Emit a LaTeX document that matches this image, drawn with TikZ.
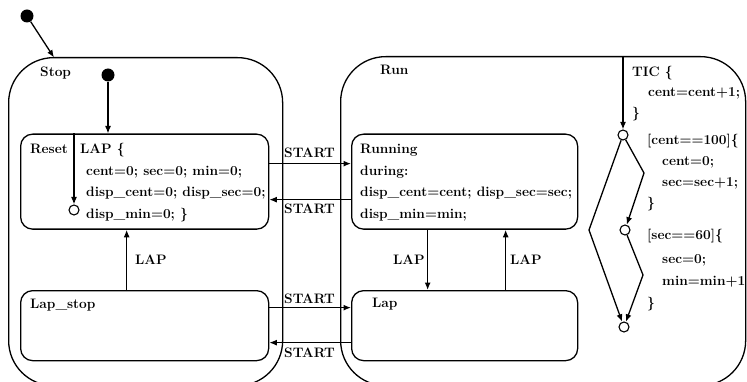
\documentclass[tikz,border=0pt]{standalone}
\usepackage{fontspec}
\usetikzlibrary{arrows.meta}
\newcommand\dfs{\fontsize{13.7}{16}\selectfont\bfseries}
\tikzset{
  statebox/.style={draw, line width=1.3pt, rounded corners=12pt, anchor=north west, inner sep=0pt},
  superbox/.style={draw, line width=1.3pt, rounded corners=45pt, anchor=north west, inner sep=0pt},
  tr/.style={line width=1.3pt, -{Latex[length=7.5pt,width=6pt]}},
  txt/.style={anchor=base west, inner sep=0pt, font=\dfs},
  junc/.style={circle, draw, line width=1.1pt, minimum size=10pt, inner sep=0pt},
  initdot/.style={circle, fill, minimum size=13pt, inner sep=0pt},
}
\begin{document}
\begin{tikzpicture}[x=1pt,y=-1pt]
\clip (0,0) rectangle (747,382);
% super states
\node[superbox, minimum width=274pt, minimum height=328pt] (stop) at (8,57) {};
\node[superbox, minimum width=405pt, minimum height=329pt] (run) at (340,56) {};
\node[txt] (stoplbl) at (40,77) {Stop};
\node[txt] (runlbl) at (380,75) {Run};
% sub states
\node[statebox, minimum width=248pt, minimum height=95pt] (reset) at (20,133.5) {};
\node[statebox, minimum width=226pt, minimum height=95pt] (running) at (351,133.5) {};
\node[statebox, minimum width=248pt, minimum height=70pt] (lapstop) at (20,290) {};
\node[statebox, minimum width=226pt, minimum height=70pt] (lap) at (351,290) {};
% texts of Reset
\node[txt] (t1) at (30,154) {Reset};
\node[txt] (t2) at (80,154) {LAP \{};
\node[txt] (t3) at (86,175.5) {cent=0; sec=0; min=0;};
\node[txt] (t4) at (86,197) {disp\_cent=0; disp\_sec=0;};
\node[txt] (t5) at (86,218.5) {disp\_min=0; \}};
% texts of Running
\node[txt] (r1) at (360,154) {Running};
\node[txt] (r2) at (360,175.5) {during:};
\node[txt] (r3) at (360,197) {disp\_cent=cent; disp\_sec=sec;};
\node[txt] (r4) at (360,218.5) {disp\_min=min;};
% other state names
\node[txt] (ls) at (30,308) {Lap\_stop};
\node[txt] (lp) at (372,307) {Lap};
% initial transitions
\node[initdot] (init1) at (27,16) {};
\coordinate (stopin) at (54,57.5);
\draw[tr] (init1) -- (stopin);
\node[initdot] (init2) at (108,75) {};
\draw[tr] (init2) -- (init2 |- reset.north);
\coordinate (rtop) at (74,133.5);
\node[junc] (j0) at (74,210) {};
\draw[tr] (rtop) -- (j0);
% START transitions
\draw[tr] ([yshift=18pt]reset.east) -- ([yshift=18pt]running.west);
\draw[tr] ([yshift=-18pt]running.west) -- ([yshift=-18pt]reset.east);
\draw[tr] ([yshift=18pt]lapstop.east) -- ([yshift=18pt]lap.west);
\draw[tr] ([yshift=-17pt]lap.west) -- ([yshift=-17pt]lapstop.east);
\node[txt] (s1) at (284,158) {START};
\node[txt] (s2) at (284,214) {START};
\node[txt] (s3) at (284,303) {START};
\node[txt] (s4) at (284,357) {START};
% LAP transitions
\draw[tr] ([xshift=-18pt]lapstop.north) -- ([xshift=-18pt]reset.south);
\draw[tr] ([xshift=-37pt]running.south) -- ([xshift=-37pt]lap.north);
\draw[tr] ([xshift=41pt]lap.north) -- ([xshift=41pt]running.south);
\node[txt] (l1) at (135,265) {LAP};
\node[txt] (l2) at (393,265) {LAP};
\node[txt] (l3) at (510,265) {LAP};
% TIC flow
\coordinate (ticin) at (623,56);
\node[junc] (j1) at (623,135) {};
\node[junc] (j2) at (625,230) {};
\node[junc] (j3) at (624,327) {};
\coordinate (b1) at (644,173);
\coordinate (b2) at (589,230);
\coordinate (b3) at (643,275);
\draw[tr] (ticin) -- (j1);
\draw[tr] (j1) -- (b1) -- (j2);
\draw[tr] (j1) -- (b2) -- (j3);
\draw[tr] (j2) -- (b3) -- (j3);
\node[txt] (c1) at (632,77) {TIC \{};
\node[txt] (c2) at (648,97) {cent=cent+1;};
\node[txt] (c3) at (632,118) {\}};
\node[txt] (c4) at (647,145) {[cent==100]\{};
\node[txt] (c5) at (662,166) {cent=0;};
\node[txt] (c6) at (662,187) {sec=sec+1;};
\node[txt] (c7) at (647,208) {\}};
\node[txt] (c8) at (647,240) {[sec==60]\{};
\node[txt] (c9) at (662,263) {sec=0;};
\node[txt] (c10) at (662,285) {min=min+1};
\node[txt] (c11) at (647,307) {\}};
\end{tikzpicture}
\end{document}
